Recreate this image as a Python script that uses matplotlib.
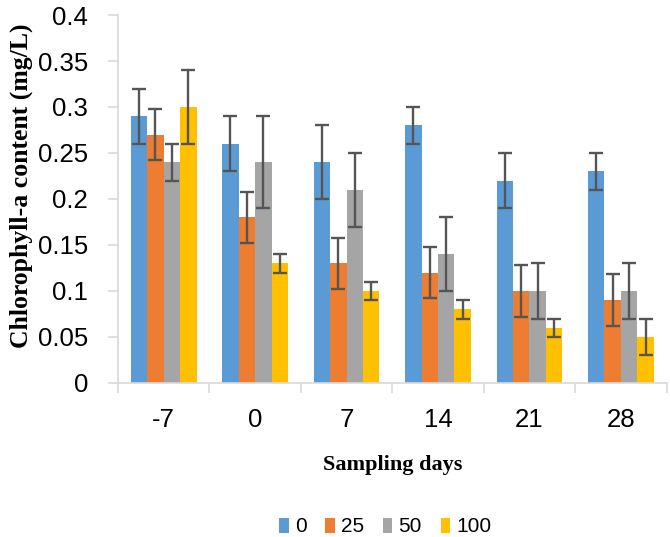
import matplotlib
matplotlib.use("Agg")
import matplotlib.pyplot as plt
import numpy as np

categories = ["-7", "0", "7", "14", "21", "28"]
series_names = ["0", "25", "50", "100"]
vals_0 = [0.29, 0.26, 0.24, 0.28, 0.22, 0.23]
vals_25 = [0.27, 0.18, 0.13, 0.12, 0.10, 0.09]
vals_50 = [0.24, 0.24, 0.21, 0.14, 0.10, 0.10]
vals_100 = [0.30, 0.13, 0.10, 0.08, 0.06, 0.05]
err_0 = [0.03, 0.03, 0.04, 0.02, 0.03, 0.02]
err_25 = [0.028, 0.028, 0.028, 0.028, 0.028, 0.028]
err_50 = [0.02, 0.05, 0.04, 0.04, 0.03, 0.03]
err_100 = [0.04, 0.01, 0.01, 0.01, 0.01, 0.02]
yticks = [0, 0.05, 0.1, 0.15, 0.2, 0.25, 0.3, 0.35, 0.4]
ytick_labels = ["0", "0.05", "0.1", "0.15", "0.2", "0.25", "0.3", "0.35", "0.4"]

colors = ["#5B9BD5", "#ED7D31", "#A5A5A5", "#FFC000"]
values = [vals_0, vals_25, vals_50, vals_100]
errors = [err_0, err_25, err_50, err_100]

fig = plt.figure(figsize=(6.7, 5.37), dpi=100)
ax = fig.add_axes([0.176, 0.287, 0.819, 0.685])

x = np.arange(len(categories))
bw = 0.18
for i, (v, e, c, n) in enumerate(zip(values, errors, colors, series_names)):
    pos = x + (i - 1.5) * bw
    ax.bar(pos, v, width=bw, color=c, label=n, zorder=2)
    ax.errorbar(pos, v, yerr=e, fmt="none", ecolor="#555555", elinewidth=1.7,
                capsize=5, capthick=1.7, zorder=3)

ax.set_xlim(-0.5, len(categories) - 0.5)
ax.set_ylim(0, 0.4)
ax.set_yticks(yticks)
ax.set_yticklabels(ytick_labels, fontfamily="Liberation Sans", fontsize=18.5)
ax.set_xticks(x)
ax.set_xticklabels(categories, fontfamily="Liberation Sans", fontsize=18.5)
ax.set_xticks(np.arange(len(categories) + 1) - 0.5, minor=True)

for s in ["top", "right"]:
    ax.spines[s].set_visible(False)
for s in ["left", "bottom"]:
    ax.spines[s].set_color("#D9D9D9")
    ax.spines[s].set_linewidth(1.2)
ax.tick_params(axis="y", length=7.5, color="#D9D9D9", width=1.2, pad=14)
ax.tick_params(axis="x", which="major", length=0, pad=18)
ax.tick_params(axis="x", which="minor", length=7, color="#D9D9D9", width=1.2)

ax.set_ylabel("Chlorophyll-a content (mg/L)", fontfamily="Liberation Serif",
              fontweight="bold", fontsize=18.5)
ax.yaxis.set_label_coords(-0.155, 0.535)
ax.set_xlabel("Sampling days", fontfamily="Liberation Serif",
              fontweight="bold", fontsize=16, va="top")
ax.xaxis.set_label_coords(0.5, -0.195)

leg = fig.legend(loc="center", ncol=4, frameon=False,
                 prop={"family": "Liberation Sans", "size": 15},
                 handlelength=0.45, handleheight=0.7, handletextpad=0.3,
                 columnspacing=0.9, borderpad=0)
leg.set_bbox_to_anchor((0.575, 1 - 527 / 537), transform=fig.transFigure)

fig.savefig("out.png", dpi=100)
